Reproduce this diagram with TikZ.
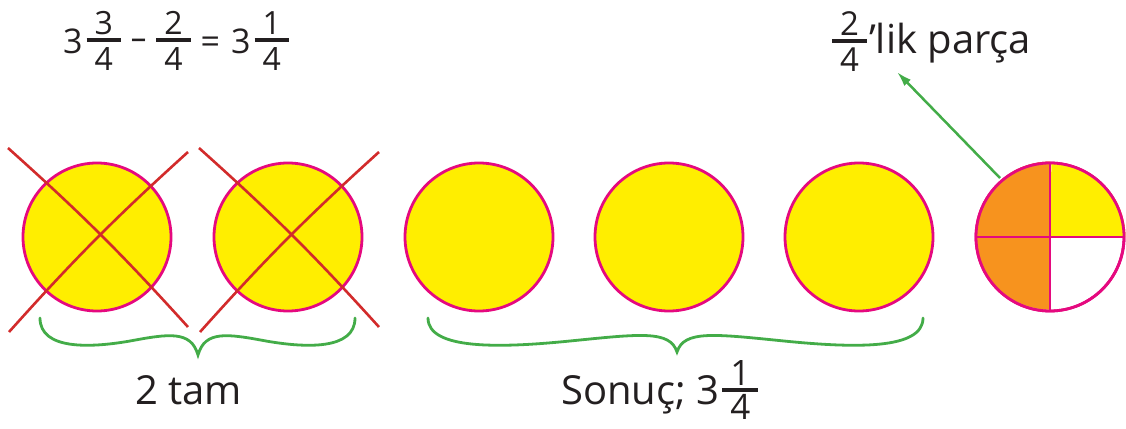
\documentclass[tikz,border=0pt]{standalone}
\usepackage{fontspec}
\usepackage{graphicx}
\setmainfont{Open Sans}
\usetikzlibrary{arrows.meta}
\definecolor{cyel}{HTML}{FFEE00}
\definecolor{cmag}{HTML}{E5097F}
\definecolor{cred}{HTML}{D22B2B}
\definecolor{corg}{HTML}{F7931E}
\definecolor{cgrn}{HTML}{43AC48}
\definecolor{ctxt}{HTML}{231F20}
\newdimen\frw \newdimen\frdh \newbox\frnum \newbox\frden
% #1 font size, #2 bar centre above baseline, #3 gap above bar, #4 gap below bar, #5 numerator, #6 denominator
\newcommand\fr[6]{\begingroup\fontsize{#1}{#1}\selectfont
  \setbox\frnum=\hbox{#5}\setbox\frden=\hbox{#6}%
  \frw=\wd\frnum \ifdim\wd\frden>\frw \frw=\wd\frden\fi \advance\frw by 16pt
  \frdh=\ht\frden
  \rlap{\raisebox{\dimexpr #2-1.75pt\relax}{\rule{\frw}{3.5pt}}}%
  \rlap{\hbox to \frw{\hss\raisebox{\dimexpr #2+1.75pt+#3\relax}{\copy\frnum}\hss}}%
  \hbox to \frw{\hss\raisebox{\dimexpr #2-1.75pt-#4-\frdh\relax}{\copy\frden}\hss}%
\endgroup}
\begin{document}
\begin{tikzpicture}[x=1pt,y=-1pt,
  disk/.style={circle,draw=cmag,line width=2.8pt,fill=cyel,minimum size=148pt,inner sep=0pt},
  cross/.style={draw=cred,line width=2.6pt},
  brace/.style={draw=cgrn,line width=2.8pt,line cap=round},
  lbl/.style={text=ctxt,font=\fontsize{40}{48}\selectfont,inner sep=0pt}]
\useasboundingbox (0,0) rectangle (1126,428);
% disks
\node[disk] (c1) at (97,237) {};
\node[disk] (c2) at (288,237) {};
\node[disk] (c3) at (479,237) {};
\node[disk] (c4) at (669,237) {};
\node[disk] (c5) at (859,237) {};
\node[disk,fill=none] (c6) at (1050,237) {};
% quarters of c6
\fill[corg] (c6.center) -- (c6.north) arc[start angle=90,end angle=270,radius=74pt] -- cycle;
\fill[cyel] (c6.center) -- (c6.east) arc[start angle=0,end angle=90,radius=74pt] -- cycle;
\draw[cmag,line width=2.6pt] (c6.north) -- (c6.south) (c6.west) -- (c6.east);
\draw[cmag,line width=2.8pt] (c6) circle[radius=74pt];
% crosses
\coordinate (a1) at (8,148); \coordinate (b1) at (188,327);
\coordinate (a2) at (9,332); \coordinate (b2) at (188,152);
\coordinate (a3) at (199,148); \coordinate (b3) at (379,327);
\coordinate (a4) at (200,332); \coordinate (b4) at (379,152);
\draw[cross] (a1) to[bend left=3] (b1);
\draw[cross] (a2) to[bend left=3] (b2);
\draw[cross] (a3) to[bend left=3] (b3);
\draw[cross] (a4) to[bend left=3] (b4);
% braces
\coordinate (p1) at (40,318); \coordinate (t1) at (198,355); \coordinate (q1) at (355,318);
\draw[brace] (p1) .. controls (40,350) and (90,348) .. (130,341) .. controls (168,334) and (191,330) .. (t1)
  .. controls (205,330) and (228,334) .. (266,341) .. controls (306,348) and (355,350) .. (q1);
\coordinate (p2) at (428,318); \coordinate (t2) at (677,352); \coordinate (q2) at (923,318);
\draw[brace] (p2) .. controls (428,350) and (500,348) .. (570,341) .. controls (640,334) and (670,330) .. (t2)
  .. controls (684,330) and (714,334) .. (784,341) .. controls (854,348) and (923,350) .. (q2);
% arrow
\coordinate (ar) at (1000,178);
\coordinate (ah) at (897,72);
\draw[cgrn,line width=2.5pt,-{Latex[length=15pt,width=9pt]}] (ar) -- (ah);
% texts
\node[lbl,font=\fontsize{34}{40}\selectfont,anchor=base west] (eq) at (63,53)
  {3\hspace{4pt}\fr{32}{13pt}{4pt}{6pt}{3}{4}\hspace{9pt}\raisebox{3pt}{\scalebox{1.6}[1]{-}}\hspace{9pt}\fr{32}{13pt}{4pt}{6pt}{2}{4}\hspace{10pt}=\hspace{11pt}3\hspace{4pt}\fr{32}{13pt}{4pt}{6pt}{1}{4}};
\node[lbl,anchor=base west] (lik) at (832,53) {\fr{33}{12pt}{4pt}{5pt}{2}{4}\hspace{2pt}’lik parça};
\node[lbl,anchor=base west] (tam) at (135,404) {2 tam};
\node[lbl,anchor=base west] (son) at (561,404) {Sonuç; 3\hspace{3pt}\fr{35}{14pt}{3pt}{3pt}{1}{4}};
\end{tikzpicture}
\end{document}
